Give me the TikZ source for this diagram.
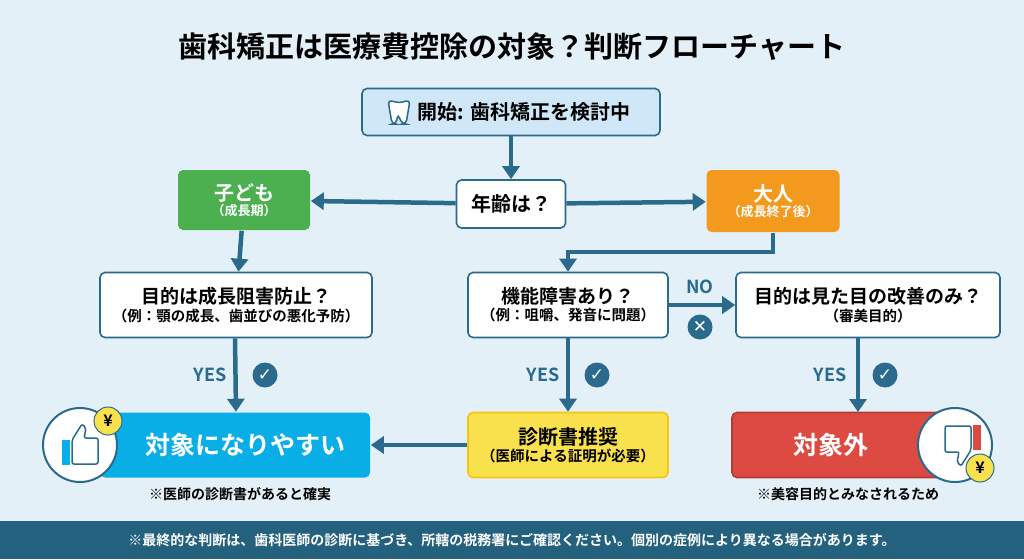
\documentclass[tikz,border=0pt]{standalone}
\usepackage{fontspec}
\setmainfont{Noto Sans CJK JP}[BoldFont={* Bold}]
\newfontfamily\symfont{DejaVu Sans}
\usetikzlibrary{arrows.meta,positioning}
\definecolor{bgblue}{HTML}{E4F0F8}
\definecolor{teal}{HTML}{2A6A8C}
\definecolor{startfill}{HTML}{CFE7F6}
\definecolor{childgreen}{HTML}{4CAF50}
\definecolor{adultorange}{HTML}{F39A1E}
\definecolor{okblue}{HTML}{0AAEE6}
\definecolor{recyellow}{HTML}{F9E14E}
\definecolor{ngred}{HTML}{DD4A42}
\definecolor{footer}{HTML}{24617F}
\tikzset{
  box/.style={draw=teal, line width=1.6pt, rounded corners=5pt, align=center, font=\bfseries, inner sep=0pt},
  flow/.style={draw=teal, line width=4.5pt, -{Triangle[length=13pt,width=17pt]}},
  badge/.style={circle, fill=teal, text=white, minimum size=25pt, inner sep=0pt, font=\symfont\bfseries\fontsize{17}{17}\selectfont},
  tag/.style={text=teal, font=\bfseries\fontsize{18}{20}\selectfont}
}
\begin{document}
\begin{tikzpicture}[x=1pt,y=-1pt]
\useasboundingbox (0,0) rectangle (1024,559);
\fill[bgblue] (0,0) rectangle (1024,559);

% Title
\node (title) at (512,47) {\bfseries\fontsize{29}{32}\selectfont 歯科矯正は医療費控除の対象？判断フローチャート};

% Boxes
\node[box, fill=startfill, minimum width=298pt, minimum height=47pt] (start) at (511,112) {\hspace{26pt}\fontsize{20}{24}\selectfont 開始: 歯科矯正を検討中};
\node[box, fill=white, minimum width=109pt, minimum height=48pt] (age) at (511,204) {\fontsize{20}{24}\selectfont 年齢は？};
\node[box, draw=none, fill=childgreen, text=white, minimum width=132pt, minimum height=60pt] (child) at (244,200) {\fontsize{20}{23}\selectfont 子ども\\[1pt]\fontsize{13}{15}\selectfont （成長期）};
\node[box, draw=none, fill=adultorange, text=white, minimum width=133pt, minimum height=62pt] (adult) at (773,201) {\fontsize{20}{23}\selectfont 大人\\[1pt]\fontsize{13}{15}\selectfont （成長終了後）};
\node[box, fill=white, minimum width=272pt, minimum height=65pt] (growth) at (236,305) {\fontsize{19}{22}\selectfont 目的は成長阻害防止？\\[2pt]\fontsize{14.5}{17}\selectfont （例：顎の成長、歯並びの悪化予防）};
\node[box, fill=white, minimum width=200pt, minimum height=65pt] (function) at (568,305) {\fontsize{19}{22}\selectfont 機能障害あり？\\[2pt]\fontsize{14.5}{17}\selectfont （例：咀嚼、発音に問題）};
\node[box, fill=white, minimum width=264pt, minimum height=65pt] (looks) at (868,305) {\fontsize{19}{22}\selectfont 目的は見た目の改善のみ？\\[2pt]\fontsize{14.5}{17}\selectfont （審美目的）};
\node[box, draw=none, fill=okblue, text=white, minimum width=270pt, minimum height=65pt] (likely) at (235,445) {\hspace{20pt}\fontsize{25}{28}\selectfont 対象になりやすい};
\node[box, draw=adultorange!60!yellow, fill=recyellow, minimum width=200pt, minimum height=65pt] (doctor) at (568,445) {\fontsize{20}{23}\selectfont 診断書推奨\\[2pt]\fontsize{14.5}{17}\selectfont （医師による証明が必要）};
\node[box, draw=ngred!80!black, fill=ngred, text=white, minimum width=228pt, minimum height=65pt] (excluded) at (846,445) {\hspace{-30pt}\fontsize{25}{28}\selectfont 対象外};

% Icons
\draw[teal, line width=1.5pt, fill=white, rounded corners=4pt] (388,100) -- (392,124) -- (396,124) -- (398,114) -- (402,124) -- (406,124) -- (410,100) -- (399,103) -- cycle;
\node[circle, draw=teal, line width=2pt, fill=white, minimum size=74pt] (thumbup) at (80,445) {};
\node[circle, fill=recyellow, draw=teal, line width=1pt, minimum size=28pt, inner sep=0pt, font=\bfseries\fontsize{16}{16}\selectfont] (yenup) at (108,421) {¥};
\node[circle, draw=teal, line width=2pt, fill=white, minimum size=74pt] (thumbdown) at (955,445) {};
\node[circle, fill=recyellow, draw=teal, line width=1pt, minimum size=28pt, inner sep=0pt, font=\bfseries\fontsize{16}{16}\selectfont] (yendown) at (980,468) {¥};
\fill[okblue] (62,440) rectangle (70,465);
\draw[teal, line width=1.5pt, fill=white, rounded corners=2pt] (72,440) -- (82,424) -- (86,428) -- (84,438) -- (98,438) -- (98,464) -- (72,464) -- cycle;
\fill[ngred] (973,425) rectangle (981,450);
\draw[teal, line width=1.5pt, fill=white, rounded corners=2pt] (971,450) -- (961,466) -- (957,462) -- (959,452) -- (945,452) -- (945,426) -- (971,426) -- cycle;

% Notes
\node[font=\bfseries\fontsize{14}{16}\selectfont] (note1) at (240,494) {※医師の診断書があると確実};
\node[font=\bfseries\fontsize{14}{16}\selectfont] (note2) at (848,494) {※美容目的とみなされるため};

% Connectors
\draw[flow] (start) -- (age);
\draw[flow] (age) -- (child);
\draw[flow] (age) -- (adult);
\draw[flow] (child) -- (growth);
\draw[flow] (adult.south) |- (568,252) -- (function.north);
\draw[flow] (function) -- (looks);
\draw[flow] (growth.south -| likely) -- (likely.north -| growth.south);
\draw[flow] (function) -- (doctor);
\draw[flow] (looks.south -| 858,0) -- (858,412);
\draw[flow] (doctor) -- (likely);

% Labels
\node[tag] (no) at (700,287) {NO};
\node[badge] (cross) at (700,327) {✕};
\node[tag] (yes1) at (210,375) {YES};
\node[badge] (check1) at (265,375) {✓};
\node[tag] (yes2) at (543,375) {YES};
\node[badge] (check2) at (597,375) {✓};
\node[tag] (yes3) at (830,375) {YES};
\node[badge] (check3) at (885,375) {✓};

% Footer
\fill[footer] (0,521) rectangle (1024,559);
\node[text=white, font=\bfseries\fontsize{14}{16}\selectfont] (footnote) at (512,540) {※最終的な判断は、歯科医師の診断に基づき、所轄の税務署にご確認ください。個別の症例により異なる場合があります。};
\end{tikzpicture}
\end{document}
